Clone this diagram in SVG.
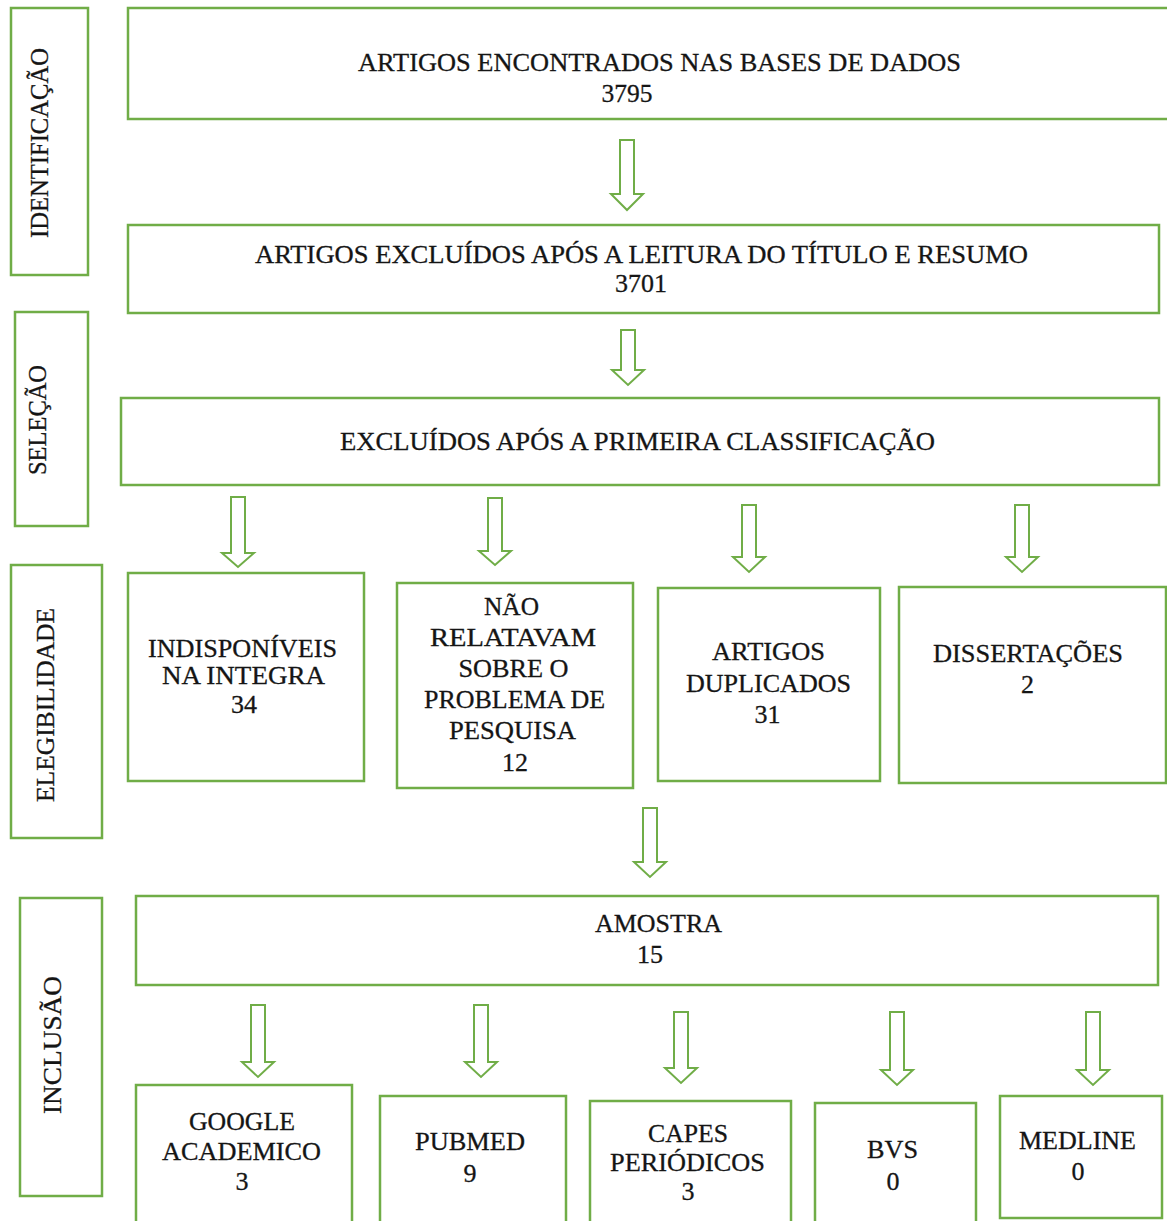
<svg xmlns="http://www.w3.org/2000/svg" width="1167" height="1221" viewBox="0 0 1167 1221">
<style>
.box{fill:#ffffff;stroke:#70AD47;stroke-width:2.5}
.arrow{fill:#ffffff;stroke:#70AD47;stroke-width:2;stroke-linejoin:miter}
.t{font-family:"Liberation Serif","Times New Roman",serif;font-size:26px;fill:#151515;stroke:#151515;stroke-width:0.3;text-anchor:middle}
</style>
<rect width="1167" height="1221" fill="#ffffff"/>

<g id="connectors">
<path class="arrow" d="M620,140 H634 V194 H643 L627,210 L611,194 H620 Z"/>
<path class="arrow" d="M621,330 H635 V370 H644 L628,385 L612,370 H621 Z"/>
<path class="arrow" d="M231,497 H245 V553 H254 L238,567 L222,553 H231 Z"/>
<path class="arrow" d="M488,498 H502 V551 H511 L495,565 L479,551 H488 Z"/>
<path class="arrow" d="M742,505 H756 V557 H765 L749,572 L733,557 H742 Z"/>
<path class="arrow" d="M1015,505 H1029 V557 H1038 L1022,572 L1006,557 H1015 Z"/>
<path class="arrow" d="M643,808 H657 V862 H666 L650,877 L634,862 H643 Z"/>
<path class="arrow" d="M251,1005 H265 V1062 H274 L258,1077 L242,1062 H251 Z"/>
<path class="arrow" d="M474,1005 H488 V1062 H497 L481,1077 L465,1062 H474 Z"/>
<path class="arrow" d="M674,1012 H688 V1068 H697 L681,1083 L665,1068 H674 Z"/>
<path class="arrow" d="M890,1012 H904 V1070 H913 L897,1085 L881,1070 H890 Z"/>
<path class="arrow" d="M1086,1012 H1100 V1070 H1109 L1093,1085 L1077,1070 H1086 Z"/>
</g>

<g id="lab-identificacao">
<rect class="box" x="11" y="8" width="77" height="267"/>
<text class="t" transform="translate(48,143) rotate(-90)" textLength="190" lengthAdjust="spacingAndGlyphs">IDENTIFICAÇÃO</text>
</g>
<g id="lab-selecao">
<rect class="box" x="15" y="312" width="73" height="214"/>
<text class="t" transform="translate(46,420) rotate(-90)" textLength="110" lengthAdjust="spacingAndGlyphs">SELEÇÃO</text>
</g>
<g id="lab-elegibilidade">
<rect class="box" x="11" y="565" width="91" height="273"/>
<text class="t" transform="translate(54,705) rotate(-90)" textLength="194" lengthAdjust="spacingAndGlyphs">ELEGIBILIDADE</text>
</g>
<g id="lab-inclusao">
<rect class="box" x="20" y="898" width="82" height="298"/>
<text class="t" transform="translate(61,1045) rotate(-90)" textLength="138" lengthAdjust="spacingAndGlyphs">INCLUSÃO</text>
</g>

<g id="n-encontrados">
<rect class="box" x="128" y="8" width="1045" height="111"/>
<text class="t" x="659.5" y="71" textLength="603" lengthAdjust="spacingAndGlyphs">ARTIGOS ENCONTRADOS NAS BASES DE DADOS</text>
<text class="t" x="627" y="102" textLength="51" lengthAdjust="spacingAndGlyphs">3795</text>
</g>
<g id="n-excluidos-titulo">
<rect class="box" x="128" y="225" width="1031" height="88"/>
<text class="t" x="641.5" y="263" textLength="773" lengthAdjust="spacingAndGlyphs">ARTIGOS EXCLUÍDOS APÓS A LEITURA DO TÍTULO E RESUMO</text>
<text class="t" x="641" y="292" textLength="52" lengthAdjust="spacingAndGlyphs">3701</text>
</g>
<g id="n-excluidos-classificacao">
<rect class="box" x="121" y="398" width="1038" height="87"/>
<text class="t" x="637.5" y="450" textLength="595" lengthAdjust="spacingAndGlyphs">EXCLUÍDOS APÓS A PRIMEIRA CLASSIFICAÇÃO</text>
</g>

<g id="n-indisponiveis">
<rect class="box" x="128" y="573" width="236" height="208"/>
<text class="t" x="242.5" y="657" textLength="189" lengthAdjust="spacingAndGlyphs">INDISPONÍVEIS</text>
<text class="t" x="243.5" y="684" textLength="163" lengthAdjust="spacingAndGlyphs">NA INTEGRA</text>
<text class="t" x="244" y="713">34</text>
</g>
<g id="n-nao-relatavam">
<rect class="box" x="397" y="583" width="236" height="205"/>
<text class="t" x="511.5" y="615" textLength="55" lengthAdjust="spacingAndGlyphs">NÃO</text>
<text class="t" x="513" y="646" textLength="166" lengthAdjust="spacingAndGlyphs">RELATAVAM</text>
<text class="t" x="513.5" y="677" textLength="110" lengthAdjust="spacingAndGlyphs">SOBRE O</text>
<text class="t" x="514.5" y="708" textLength="181" lengthAdjust="spacingAndGlyphs">PROBLEMA DE</text>
<text class="t" x="512.5" y="739" textLength="127" lengthAdjust="spacingAndGlyphs">PESQUISA</text>
<text class="t" x="515" y="771">12</text>
</g>
<g id="n-duplicados">
<rect class="box" x="658" y="588" width="222" height="193"/>
<text class="t" x="768.5" y="660" textLength="113" lengthAdjust="spacingAndGlyphs">ARTIGOS</text>
<text class="t" x="768.5" y="692" textLength="165" lengthAdjust="spacingAndGlyphs">DUPLICADOS</text>
<text class="t" x="767.5" y="723">31</text>
</g>
<g id="n-dissertacoes">
<rect class="box" x="899" y="587" width="267" height="196"/>
<text class="t" x="1028" y="662" textLength="190" lengthAdjust="spacingAndGlyphs">DISSERTAÇÕES</text>
<text class="t" x="1027.5" y="693">2</text>
</g>

<g id="n-amostra">
<rect class="box" x="136" y="896" width="1022" height="89"/>
<text class="t" x="658.5" y="932" textLength="127" lengthAdjust="spacingAndGlyphs">AMOSTRA</text>
<text class="t" x="650" y="963">15</text>
</g>

<g id="n-google">
<rect class="box" x="136" y="1085" width="216" height="150"/>
<text class="t" x="242" y="1130" textLength="106" lengthAdjust="spacingAndGlyphs">GOOGLE</text>
<text class="t" x="241.5" y="1160" textLength="159" lengthAdjust="spacingAndGlyphs">ACADEMICO</text>
<text class="t" x="242" y="1190">3</text>
</g>
<g id="n-pubmed">
<rect class="box" x="380" y="1096" width="186" height="140"/>
<text class="t" x="470" y="1150" textLength="110" lengthAdjust="spacingAndGlyphs">PUBMED</text>
<text class="t" x="470" y="1182">9</text>
</g>
<g id="n-capes">
<rect class="box" x="590" y="1101" width="201" height="135"/>
<text class="t" x="688" y="1142" textLength="80" lengthAdjust="spacingAndGlyphs">CAPES</text>
<text class="t" x="687.5" y="1171" textLength="155" lengthAdjust="spacingAndGlyphs">PERIÓDICOS</text>
<text class="t" x="688" y="1200">3</text>
</g>
<g id="n-bvs">
<rect class="box" x="815" y="1103" width="161" height="133"/>
<text class="t" x="892.5" y="1158" textLength="51" lengthAdjust="spacingAndGlyphs">BVS</text>
<text class="t" x="893" y="1190">0</text>
</g>
<g id="n-medline">
<rect class="box" x="1000" y="1096" width="162" height="122"/>
<text class="t" x="1077.5" y="1149" textLength="117" lengthAdjust="spacingAndGlyphs">MEDLINE</text>
<text class="t" x="1078" y="1180">0</text>
</g>
</svg>
